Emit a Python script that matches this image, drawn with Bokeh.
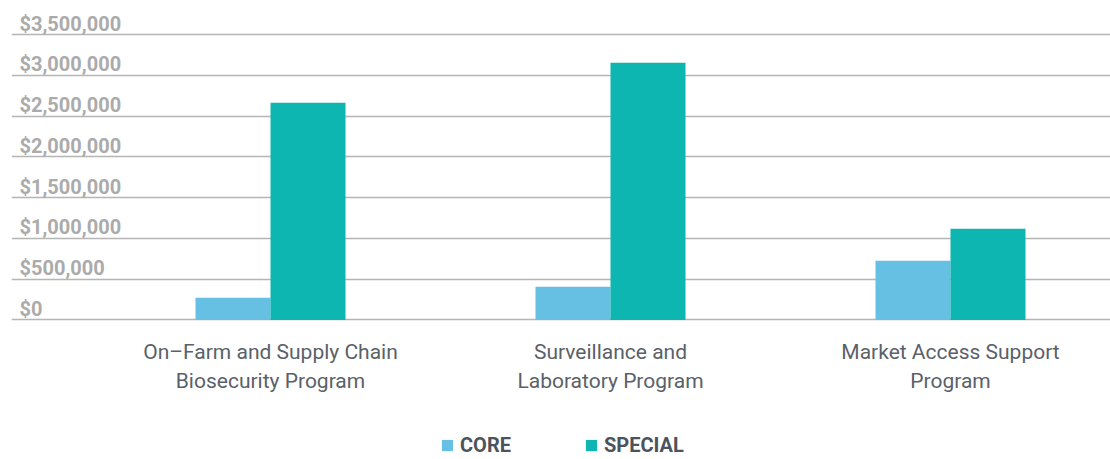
from bokeh.plotting import figure
from bokeh.models import (ColumnDataSource, Range1d, FixedTicker, Legend, LegendItem)
from bokeh.transform import dodge
from bokeh.core.properties import value
from bokeh.embed import file_html
from bokeh.resources import INLINE

# ---- data ----
categories = ["On–Farm and Supply Chain\nBiosecurity Program",
              "Surveillance and\nLaboratory Program",
              "Market Access Support\nProgram"]
core = [274000, 409000, 728000]
special = [2666000, 3157000, 1120000]
y_ticks = [0, 500000, 1000000, 1500000, 2000000, 2500000, 3000000, 3500000]
y_tick_labels = ["$0", "$500,000", "$1,000,000", "$1,500,000", "$2,000,000",
                 "$2,500,000", "$3,000,000", "$3,500,000"]
series_names = ["CORE", "SPECIAL"]
colors = ["#66C0E3", "#0DB6B0"]

W, H = 1110, 459
x_idx = list(range(len(categories)))
src = ColumnDataSource(dict(x=x_idx, core=core, special=special, label=categories))

p = figure(width=W, height=H, output_backend="svg", toolbar_location=None,
           x_range=Range1d(-0.7618, 2.4706), y_range=Range1d(-1711700, 3920000),
           min_border_left=11, min_border_right=0, min_border_top=0, min_border_bottom=0)
p.outline_line_color = None
p.xaxis.visible = False
p.yaxis.visible = False
p.xgrid.grid_line_color = None
p.ygrid.ticker = FixedTicker(ticks=y_ticks)
p.ygrid.grid_line_color = "#B5B5B5"
p.ygrid.grid_line_width = 1.6
p.background_fill_color = "white"
p.border_fill_color = "white"

bw = 0.2206
r_core = p.vbar(x=dodge("x", -bw / 2, range=p.x_range), top="core", width=bw, bottom=0,
                source=src, color=colors[0], line_color=None)
r_spec = p.vbar(x=dodge("x", bw / 2, range=p.x_range), top="special", width=bw, bottom=0,
                source=src, color=colors[1], line_color=None)

# y tick labels above gridlines
tsrc = ColumnDataSource(dict(y=y_ticks, t=y_tick_labels, x=[p.x_range.start] * len(y_ticks)))
p.text(x="x", y="y", text="t", source=tsrc, x_offset=8, y_offset=-11,
       text_font=value("Roboto"), text_font_style="bold", text_font_size="20px",
       text_color="#ABABAB", text_align="left", text_baseline="alphabetic")

# category labels
csrc = ColumnDataSource(dict(x=x_idx, y=[0] * len(categories), t=categories))
p.text(x="x", y="y", text="t", source=csrc, y_offset=20,
       text_font=value("Roboto"), text_font_size="21px", text_color="#5A6169",
       text_align="center", text_baseline="top", text_line_height=1.2)

legend = Legend(items=[LegendItem(label=series_names[0], renderers=[r_core]),
                       LegendItem(label=series_names[1], renderers=[r_spec])],
                orientation="horizontal", location=(429, 2),
                glyph_width=14, glyph_height=14, label_standoff=6, spacing=73,
                padding=0, margin=0, border_line_color=None, background_fill_alpha=0,
                label_text_font="Roboto", label_text_font_style="bold",
                label_text_font_size="20px", label_text_color="#4B535C",
                label_height=14)
p.add_layout(legend, "center")

open("out.html", "w").write(file_html(p, INLINE))
